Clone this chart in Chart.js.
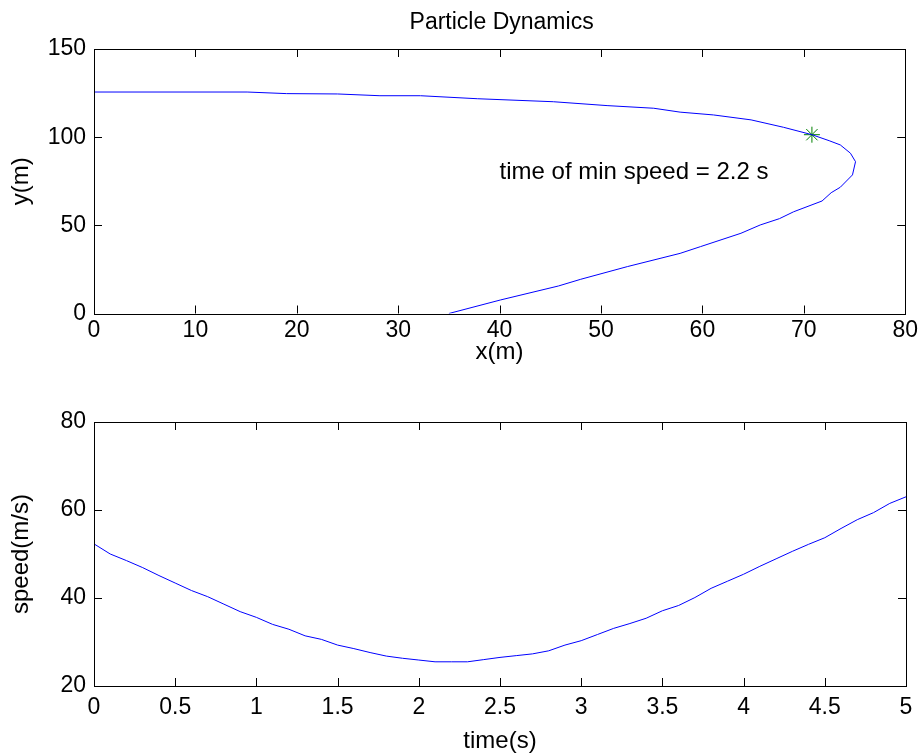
<!DOCTYPE html>
<html>
<head>
<meta charset="utf-8">
<title>Particle Dynamics</title>
<script src="https://cdn.jsdelivr.net/npm/chart.js@4.4.0/dist/chart.umd.min.js"></script>
<style>
  html, body { margin: 0; padding: 0; background: #fff; }
  #wrap { position: relative; width: 921px; height: 753px; }
  canvas { position: absolute; left: 0; }
</style>
</head>
<body>
<div id="wrap">
  <canvas id="pathChart" width="921" height="376" style="top:0"></canvas>
  <canvas id="speedChart" width="921" height="377" style="top:376px"></canvas>
</div>
<script>
// trajectory (x, y) in metres
const pathX = [35.0, 40.1, 45.8, 48.0, 52.6, 57.8, 59.8, 63.8, 65.7, 67.6, 69.0, 71.8, 72.7, 73.6, 74.8, 75.1, 74.6,
               73.6, 72.5, 70.8, 68.0, 64.8, 61.1, 57.8, 55.2, 50.6, 45.3, 37.8, 32.2, 28.2, 24.0, 19.0, 15.1, 0];
const pathY = [0, 7.7, 15.6, 19.4, 26.6, 34.1, 37.9, 45.5, 50.2, 53.8, 57.7, 63.8, 68.5, 71.6, 78.6, 86.1, 90.9,
               95.6, 98.0, 101.4, 105.6, 109.8, 112.6, 114.2, 116.4, 117.9, 120.1, 121.8, 123.5, 123.5, 124.5, 124.7, 125.6, 125.6];

// position at the time of minimum speed
const minSpeedX = [70.8];
const minSpeedY = [101.4];
const minSpeedNote = 'time of min speed = 2.2 s';

// speed vs time
const timeS = [0, 0.1, 0.2, 0.3, 0.4, 0.5, 0.6, 0.7, 0.8, 0.9, 1.0, 1.1, 1.2, 1.3, 1.4, 1.5, 1.6, 1.7, 1.8, 1.9,
               2.0, 2.1, 2.2, 2.3, 2.4, 2.5, 2.6, 2.7, 2.8, 2.9, 3.0, 3.1, 3.2, 3.3, 3.4, 3.5, 3.6, 3.7, 3.8, 3.9,
               4.0, 4.1, 4.2, 4.3, 4.4, 4.5, 4.6, 4.7, 4.8, 4.9, 5.0];
const speed = [52.3, 50.0, 48.5, 46.9, 45.1, 43.4, 41.7, 40.3, 38.6, 36.9, 35.6, 34.0, 32.9, 31.4, 30.6, 29.3, 28.5, 27.6, 26.8, 26.3,
               25.9, 25.5, 25.5, 25.5, 26.0, 26.5, 26.9, 27.3, 28.0, 29.3, 30.3, 31.7, 33.1, 34.2, 35.4, 37.1, 38.3, 40.1, 42.2, 43.8,
               45.4, 47.2, 48.9, 50.6, 52.2, 53.7, 55.8, 57.8, 59.4, 61.5, 63.0];

// tick values
const pathXTicks = [0, 10, 20, 30, 40, 50, 60, 70, 80];
const pathYTicks = [0, 50, 100, 150];
const timeTicks = [0, 0.5, 1, 1.5, 2, 2.5, 3, 3.5, 4, 4.5, 5];
const speedTicks = [20, 40, 60, 80];

const FONT = "'Liberation Sans', Arial, Helvetica, sans-serif";
const TICK_SIZE = 23;
const LABEL_SIZE = 24;

// MATLAB-like box with inward ticks and the axis texts
const matlabAxes = {
  id: 'matlabAxes',
  afterDraw(chart, args, opts) {
    const { ctx, chartArea: a } = chart;
    const x = chart.scales.x, y = chart.scales.y;
    ctx.save();
    ctx.strokeStyle = '#000';
    ctx.lineWidth = 1;
    ctx.beginPath();
    x.ticks.forEach(t => {
      const p = Math.round(x.getPixelForValue(t.value)) + 0.5;
      ctx.moveTo(p, a.bottom); ctx.lineTo(p, a.bottom - 8);
      ctx.moveTo(p, a.top); ctx.lineTo(p, a.top + 8);
    });
    y.ticks.forEach(t => {
      const p = Math.round(y.getPixelForValue(t.value)) + 0.5;
      ctx.moveTo(a.left, p); ctx.lineTo(a.left + 8, p);
      ctx.moveTo(a.right, p); ctx.lineTo(a.right - 8, p);
    });
    ctx.stroke();
    ctx.strokeRect(Math.round(a.left) + 0.5, Math.round(a.top) + 0.5, Math.round(a.width), Math.round(a.height));

    ctx.fillStyle = '#000';
    ctx.textAlign = 'center';
    ctx.textBaseline = 'middle';
    const cx = (a.left + a.right) / 2;
    if (opts.title) {
      ctx.font = TICK_SIZE + 'px ' + FONT;
      ctx.fillText(opts.title, cx + 2, a.top - 26);
    }
    ctx.font = LABEL_SIZE + 'px ' + FONT;
    if (opts.xTitle) ctx.fillText(opts.xTitle, cx, a.bottom + opts.xTitleGap);
    if (opts.note) {
      ctx.textAlign = 'left';
      ctx.fillText(opts.note.text, x.getPixelForValue(opts.note.x), y.getPixelForValue(opts.note.y));
    }
    if (opts.yTitle) {
      ctx.translate(21, (a.top + a.bottom) / 2);
      ctx.rotate(-Math.PI / 2);
      ctx.textAlign = 'center';
      ctx.fillText(opts.yTitle, 0, 0);
    }
    ctx.restore();
  }
};

function axis(min, max, ticks, fitKey, fitSize, pad) {
  return {
    type: 'linear',
    min: min,
    max: max,
    grid: { display: false, drawTicks: false },
    border: { display: false },
    afterBuildTicks: s => { s.ticks = ticks.map(v => ({ value: v })); },
    afterFit: s => { s[fitKey] = fitSize; },
    ticks: {
      color: '#000',
      padding: pad,
      font: { family: FONT, size: TICK_SIZE },
      callback: v => String(v)
    }
  };
}

Chart.defaults.animation = false;

new Chart(document.getElementById('pathChart'), {
  type: 'scatter',
  data: {
    datasets: [{
      data: pathX.map((v, i) => ({ x: v, y: pathY[i] })),
      showLine: true,
      borderColor: '#0000ff',
      borderWidth: 1,
      pointRadius: 0,
      tension: 0
    }, {
      data: minSpeedX.map((v, i) => ({ x: v, y: minSpeedY[i] })),
      pointStyle: 'star',
      pointRadius: 8,
      borderColor: '#008000',
      backgroundColor: '#008000',
      borderWidth: 1
    }]
  },
  options: {
    responsive: false,
    layout: { padding: { top: 49, right: 15, bottom: 0, left: 0 } },
    scales: {
      x: axis(0, 80, pathXTicks, 'height', 62.5, 3),
      y: axis(0, 150, pathYTicks, 'width', 94, 8)
    },
    plugins: {
      legend: { display: false },
      tooltip: { enabled: false },
      matlabAxes: {
        title: 'Particle Dynamics',
        xTitle: 'x(m)',
        xTitleGap: 39,
        yTitle: 'y(m)',
        note: { x: 40, y: 80, text: minSpeedNote }
      }
    }
  },
  plugins: [matlabAxes]
});

new Chart(document.getElementById('speedChart'), {
  type: 'scatter',
  data: {
    datasets: [{
      data: timeS.map((v, i) => ({ x: v, y: speed[i] })),
      showLine: true,
      borderColor: '#0000ff',
      borderWidth: 1,
      pointRadius: 0,
      tension: 0
    }]
  },
  options: {
    responsive: false,
    layout: { padding: { top: 46, right: 15, bottom: 0, left: 0 } },
    scales: {
      x: axis(0, 5, timeTicks, 'height', 67, 8),
      y: axis(20, 80, speedTicks, 'width', 94, 8)
    },
    plugins: {
      legend: { display: false },
      tooltip: { enabled: false },
      matlabAxes: {
        xTitle: 'time(s)',
        xTitleGap: 55,
        yTitle: 'speed(m/s)'
      }
    }
  },
  plugins: [matlabAxes]
});
</script>
</body>
</html>
